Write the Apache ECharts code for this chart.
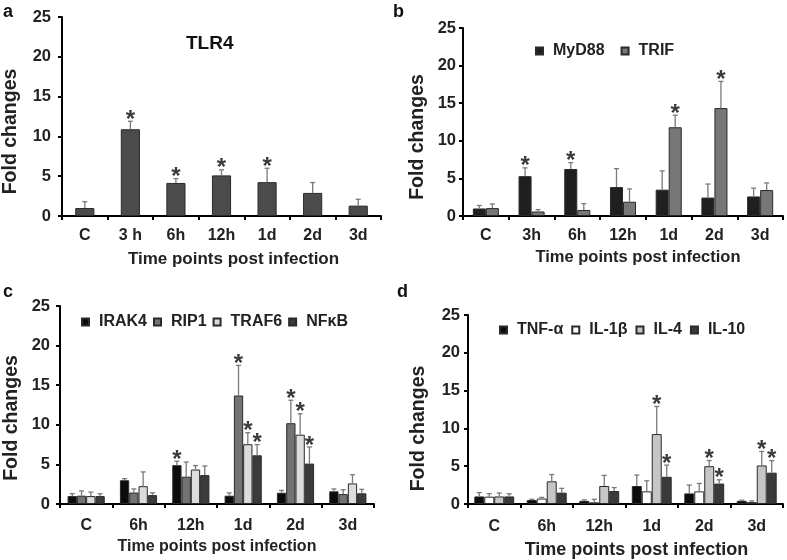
<!DOCTYPE html>
<html><head><meta charset="utf-8">
<script src="https://cdn.jsdelivr.net/npm/echarts@6/dist/echarts.min.js"></script>
<style>html,body{margin:0;padding:0;background:#fff}#c{width:787px;height:560px}</style>
</head><body><div id="c"></div>
<script>
// ---------- data ----------
const yTicks = [0, 5, 10, 15, 20, 25];

const catsA = ['C', '3 h', '6h', '12h', '1d', '2d', '3d'];
const tlr4Mean = [1.0, 10.9, 4.15, 5.1, 4.25, 2.9, 1.3];
const tlr4Sd   = [0.8, 1.0, 0.55, 0.7, 1.75, 1.3, 0.8];
const tlr4Sig  = [0, 1, 1, 1, 1, 0, 0];

const catsB = ['C', '3h', '6h', '12h', '1d', '2d', '3d'];
const myd88Mean = [1.0, 5.3, 6.25, 3.85, 3.5, 2.45, 2.6];
const myd88Sd   = [0.4, 1.1, 0.85, 2.45, 2.5, 1.8, 1.1];
const myd88Sig  = [0, 1, 1, 0, 0, 0, 0];
const trifMean  = [1.05, 0.6, 0.8, 1.9, 11.8, 14.35, 3.45];
const trifSd    = [0.55, 0.25, 0.85, 1.7, 1.6, 3.55, 0.95];
const trifSig   = [0, 0, 0, 0, 1, 1, 0];

const catsC = ['C', '6h', '12h', '1d', '2d', '3d'];
const irak4Mean = [1.0, 3.0, 4.9, 1.05, 1.42, 1.6];
const irak4Sd   = [0.3, 0.2, 0.5, 0.35, 0.3, 0.3];
const irak4Sig  = [0, 0, 1, 0, 0, 0];
const rip1Mean  = [1.05, 1.45, 3.45, 13.7, 10.2, 1.25];
const rip1Sd    = [0.6, 0.45, 1.85, 3.8, 2.9, 0.55];
const rip1Sig   = [0, 0, 0, 1, 1, 0];
const traf6Mean = [1.0, 2.25, 4.35, 7.55, 8.75, 2.6];
const traf6Sd   = [0.5, 1.8, 0.5, 1.45, 2.65, 1.1];
const traf6Sig  = [0, 0, 0, 1, 1, 0];
const nfkbMean  = [1.0, 1.12, 3.65, 6.15, 5.1, 1.35];
const nfkbSd    = [0.3, 0.3, 1.15, 1.35, 2.1, 0.5];
const nfkbSig   = [0, 0, 0, 1, 1, 0];

const catsD = ['C', '6h', '12h', '1d', '2d', '3d'];
const tnfMean  = [1.0, 0.52, 0.42, 2.38, 1.4, 0.42];
const tnfSd    = [0.5, 0.1, 0.12, 1.45, 1.1, 0.08];
const tnfSig   = [0, 0, 0, 0, 0, 0];
const il1bMean = [0.97, 0.72, 0.22, 1.67, 1.67, 0.25];
const il1bSd   = [0.4, 0.15, 0.4, 1.4, 1.05, 0.15];
const il1bSig  = [0, 0, 0, 0, 0, 0];
const il4Mean  = [1.0, 3.0, 2.38, 9.25, 5.0, 5.1];
const il4Sd    = [0.45, 0.9, 1.4, 3.65, 0.75, 1.85];
const il4Sig   = [0, 0, 0, 1, 1, 1];
const il10Mean = [1.0, 1.5, 1.72, 3.6, 2.7, 4.14];
const il10Sd   = [0.35, 0.57, 0.45, 1.55, 0.5, 1.6];
const il10Sig  = [0, 0, 0, 1, 1, 1];

// ---------- styling / layout ----------
const FONT = '"Liberation Sans", Arial, Helvetica, sans-serif';
const panels = [
  { cats: catsA, gap: 0.58, grid: {left: 62, top: 17, width: 319, height: 199},
    series: [{name: 'TLR4', mean: tlr4Mean, sd: tlr4Sd, sig: tlr4Sig, color: '#4b4b4b'}],
    yLabelMargin: 11, yNameGap: 41, yShift: 15, xLabelMargin: 12, xNameGap: 35, xNameSize: 17, xShift: 12 },
  { cats: catsB, gap: 0.43, grid: {left: 463, top: 28, width: 320, height: 188},
    series: [{name: 'MyD88', mean: myd88Mean, sd: myd88Sd, sig: myd88Sig, color: '#1f1f1f'},
             {name: 'TRIF', mean: trifMean, sd: trifSd, sig: trifSig, color: '#777777'}],
    yLabelMargin: 7, yNameGap: 35, yShift: 15, xLabelMargin: 12, xNameGap: 33, xNameSize: 16.5, xShift: 15,
    legend: {left: 535, top: 43, itemGap: 16} },
  { cats: catsC, gap: 0.29, grid: {left: 60, top: 306, width: 314, height: 198},
    series: [{name: 'IRAK4', mean: irak4Mean, sd: irak4Sd, sig: irak4Sig, color: '#0b0b0b'},
             {name: 'RIP1', mean: rip1Mean, sd: rip1Sd, sig: rip1Sig, color: '#737373'},
             {name: 'TRAF6', mean: traf6Mean, sd: traf6Sd, sig: traf6Sig, color: '#dcdcdc'},
             {name: 'NFκB', mean: nfkbMean, sd: nfkbSd, sig: nfkbSig, color: '#3b3b3b'}],
    yLabelMargin: 10, yNameGap: 38, yShift: 13, xLabelMargin: 14, xNameGap: 35, xNameSize: 16, xShift: 0,
    legend: {left: 81, top: 314, itemGap: 6} },
  { cats: catsD, gap: 0.24, grid: {left: 468, top: 315, width: 315, height: 189},
    series: [{name: 'TNF-α', mean: tnfMean, sd: tnfSd, sig: tnfSig, color: '#0b0b0b'},
             {name: 'IL-1β', mean: il1bMean, sd: il1bSd, sig: il1bSig, color: '#ffffff'},
             {name: 'IL-4', mean: il4Mean, sd: il4Sd, sig: il4Sig, color: '#c6c6c6'},
             {name: 'IL-10', mean: il10Mean, sd: il10Sd, sig: il10Sig, color: '#3a3a3a'}],
    yLabelMargin: 8, yNameGap: 39, yShift: 19, xLabelMargin: 15, xNameGap: 37, xNameSize: 18, xShift: 11,
    legend: {left: 499, top: 322, itemGap: 8} }
];

const boldText = (size) => ({ fontFamily: FONT, fontWeight: 'bold', fontSize: size, color: '#222' });

const grids = [], xAxes = [], yAxes = [], series = [], legends = [];
panels.forEach((p, k) => {
  grids.push(Object.assign({ outerBoundsMode: 'none', containLabel: false }, p.grid));
  xAxes.push({
    type: 'category', gridIndex: k, data: p.cats,
    name: 'Time points post infection', nameLocation: 'middle', nameGap: p.xNameGap,
    nameTextStyle: Object.assign({ padding: [0, 0, 0, p.xShift * 2] }, boldText(p.xNameSize)),
    axisLine: { show: true, onZero: false, lineStyle: { color: '#000', width: 2 } },
    axisTick: { show: true, length: 4, lineStyle: { color: '#000', width: 2 } },
    axisLabel: Object.assign({ interval: 0, margin: p.xLabelMargin }, boldText(16)),
    splitLine: { show: false }
  });
  yAxes.push({
    type: 'value', gridIndex: k, min: yTicks[0], max: yTicks[yTicks.length - 1],
    interval: yTicks[1] - yTicks[0],
    name: 'Fold changes', nameLocation: 'middle', nameGap: p.yNameGap,
    nameTextStyle: Object.assign({ padding: [0, p.yShift * 2, 0, 0] }, boldText(19.5)),
    axisLine: { show: true, lineStyle: { color: '#000', width: 2 } },
    axisTick: { show: true, length: 4, lineStyle: { color: '#000', width: 2 } },
    axisLabel: Object.assign({ margin: p.yLabelMargin }, boldText(16.5)),
    splitLine: { show: false }
  });
  const n = p.series.length;
  const errData = [];
  p.series.forEach((s, i) => {
    series.push({
      type: 'bar', name: s.name, xAxisIndex: k, yAxisIndex: k, data: s.mean,
      barGap: '0%', barCategoryGap: (p.gap * 100) + '%',
      itemStyle: { color: s.color, borderColor: '#2a2a2a', borderWidth: 1 },
      emphasis: { disabled: true }, animation: false
    });
    s.mean.forEach((m, j) => errData.push([j, m, s.sd[j], s.sig[j], i]));
  });
  const gap = p.gap;
  series.push({
    type: 'custom', name: 'err' + k, xAxisIndex: k, yAxisIndex: k,
    data: errData, encode: { x: 0, y: 1 }, animation: false, silent: true, z: 5,
    renderItem: function (params, api) {
      const j = api.value(0), m = api.value(1), sd = api.value(2), sig = api.value(3), i = api.value(4);
      const band = api.size([1, 0])[0];
      const bw = band * (1 - gap) / n;
      const x = api.coord([j, 0])[0] + (i - (n - 1) / 2) * bw;
      const yM = api.coord([j, m])[1];
      const yT = api.coord([j, m + sd])[1];
      const ls = { stroke: '#7a7a7a', lineWidth: 1.3 };
      const children = [
        { type: 'line', shape: { x1: x, y1: yM, x2: x, y2: yT }, style: ls },
        { type: 'line', shape: { x1: x - 2.5, y1: yT, x2: x + 2.5, y2: yT }, style: ls }
      ];
      if (sig) {
        children.push({ type: 'text', style: { text: '*', x: x, y: yT - 1, align: 'center',
          verticalAlign: 'middle', fontFamily: FONT, fontWeight: 'bold', fontSize: 24, fill: '#3a3a3a' } });
      }
      return { type: 'group', children: children };
    }
  });
  if (p.legend) {
    legends.push({
      left: p.legend.left, top: p.legend.top, itemGap: p.legend.itemGap,
      itemWidth: 7, itemHeight: 7, icon: 'rect', padding: 0, selectedMode: false,
      data: p.series.map(s => s.name),
      textStyle: Object.assign({ padding: [0, 0, 0, 5] }, boldText(16))
    });
  }
});

const titleStyle = (size) => ({ fontFamily: FONT, fontWeight: 'bold', fontSize: size, color: '#111' });
const titles = [
  { text: 'a', left: 3, top: 3, padding: 0, textStyle: titleStyle(18) },
  { text: 'b', left: 393, top: 3, padding: 0, textStyle: titleStyle(18) },
  { text: 'c', left: 3, top: 283, padding: 0, textStyle: titleStyle(18) },
  { text: 'd', left: 397, top: 283, padding: 0, textStyle: titleStyle(18) },
  { text: 'TLR4', left: 186, top: 34, padding: 0, textStyle: titleStyle(19) }
];

const chart = echarts.init(document.getElementById('c'), null, { renderer: 'canvas' });
chart.setOption({
  backgroundColor: '#ffffff',
  animation: false,
  title: titles,
  legend: legends,
  grid: grids,
  xAxis: xAxes,
  yAxis: yAxes,
  series: series
});
</script></body></html>
